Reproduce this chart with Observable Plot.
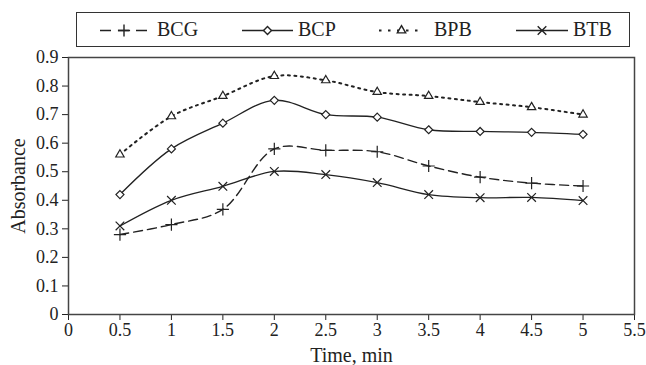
<!DOCTYPE html>
<html>
<head>
<meta charset="utf-8">
<script src="https://cdn.jsdelivr.net/npm/d3@7"></script>
<script src="https://cdn.jsdelivr.net/npm/@observablehq/plot@0.6"></script>
<style>
  html, body { margin: 0; padding: 0; background: #fff; }
  #wrap { position: relative; width: 646px; height: 365px; font-family: "Liberation Serif", "Times New Roman", serif; }
  #legend { position: absolute; left: 76px; top: 12px; width: 552px; height: 33px; border: 1.5px solid #333; box-sizing: content-box; }
  .lab { position: absolute; top: 4px; font-size: 20px; color: #222; line-height: 24px; }
  svg.sample { position: absolute; top: 0; }
</style>
</head>
<body>
<div id="wrap"></div>
<script>
const times = [0.5, 1, 1.5, 2, 2.5, 3, 3.5, 4, 4.5, 5];
const seriesNames = ["BCG", "BCP", "BPB", "BTB"];
const BCG = [0.28, 0.315, 0.368, 0.58, 0.575, 0.57, 0.52, 0.481, 0.46, 0.45];
const BCP = [0.42, 0.58, 0.67, 0.75, 0.70, 0.691, 0.647, 0.641, 0.638, 0.631];
const BPB = [0.56, 0.694, 0.765, 0.835, 0.82, 0.779, 0.765, 0.744, 0.726, 0.70];
const BTB = [0.31, 0.40, 0.449, 0.501, 0.49, 0.462, 0.42, 0.409, 0.41, 0.399];
const xTicks = [0, 0.5, 1, 1.5, 2, 2.5, 3, 3.5, 4, 4.5, 5, 5.5];
const yTicks = [0, 0.1, 0.2, 0.3, 0.4, 0.5, 0.6, 0.7, 0.8, 0.9];
const xTitle = "Time, min";
const yTitle = "Absorbance";

const values = {BCG, BCP, BPB, BTB};
const styles = {
  BCG: {dash: "9,5", width: 1.4, symbol: "plus", fill: "none"},
  BCP: {dash: null, width: 1.3, symbol: "diamond2", fill: "white"},
  BPB: {dash: "2,4.5", width: 2, symbol: "triangle2", fill: "white"},
  BTB: {dash: null, width: 1.3, symbol: "times", fill: "none"}
};
const ink = "#222";

const marks = [];
for (const s of seriesNames) {
  const data = times.map((t, i) => ({t, v: values[s][i]}));
  marks.push(Plot.line(data, {x: "t", y: "v", curve: "catmull-rom", stroke: ink, strokeWidth: styles[s].width, strokeDasharray: styles[s].dash}));
}
for (const s of seriesNames) {
  const data = times.map((t, i) => ({t, v: values[s][i]}));
  marks.push(Plot.dot(data, {x: "t", y: "v", symbol: () => styles[s].symbol, r: s === "BCP" ? 3.6 : 4, stroke: ink, strokeWidth: 1.2, fill: styles[s].fill}));
}

const chart = Plot.plot({
  width: 646,
  height: 365,
  marginLeft: 68,
  marginRight: 12,
  marginTop: 57,
  marginBottom: 51,
  style: {fontFamily: "'Liberation Serif', 'Times New Roman', serif", fontSize: "18px", color: ink, background: "white"},
  x: {domain: [0, 5.5], ticks: xTicks, tickFormat: d => String(d), tickSize: 6, tickPadding: 3, label: xTitle, labelArrow: "none", labelAnchor: "center", labelOffset: 47},
  y: {domain: [0, 0.9], ticks: yTicks, tickFormat: d => String(+d.toFixed(1)), tickSize: 6, tickPadding: 4, label: yTitle, labelArrow: "none", labelAnchor: "center", labelOffset: 58},
  symbol: {type: "identity"},
  marks: [
    Plot.frame({stroke: "#444", strokeWidth: 1.5}),
    ...marks
  ]
});
// axis-label font and strip arrows
const xl = chart.querySelector("g[aria-label='x-axis label'] text");
const yl = chart.querySelector("g[aria-label='y-axis label'] text");
if (xl) { xl.textContent = xTitle; xl.setAttribute("font-size", "20px"); }
if (yl) { yl.textContent = yTitle; yl.setAttribute("font-size", "20px"); }
document.getElementById("wrap").appendChild(chart);

// Legend (HTML + small SVG samples)
const legend = document.createElement("div");
legend.id = "legend";
document.getElementById("wrap").appendChild(legend);
const legendItems = [
  {name: "BCG", x0: 23, x1: 71, textX: 80, dash: "11,7"},
  {name: "BCP", x0: 165, x1: 216, textX: 221, dash: null},
  {name: "BPB", x0: 302, x1: 347, textX: 357, dash: "2.5,6.5"},
  {name: "BTB", x0: 439, x1: 491, textX: 496, dash: null}
];
for (const it of legendItems) {
  const st = styles[it.name];
  const svg = d3.create("svg").attr("class", "sample").attr("width", it.x1 - it.x0).attr("height", 33).style("left", it.x0 + "px");
  const w = it.x1 - it.x0, cy = 17.5;
  svg.append("line").attr("x1", 0).attr("x2", w).attr("y1", cy).attr("y2", cy)
    .attr("stroke", ink).attr("stroke-width", it.name === "BPB" ? 2 : 1.4)
    .attr("stroke-dasharray", it.dash);
  const symMap = {plus: d3.symbolPlus, diamond2: d3.symbolDiamond2, triangle2: d3.symbolTriangle2, times: d3.symbolTimes};
  svg.append("path").attr("d", d3.symbol(symMap[st.symbol], it.name === "BCP" ? 40 : 50)())
    .attr("transform", `translate(${w / 2},${cy})`)
    .attr("fill", st.fill === "white" ? "white" : "none").attr("stroke", ink).attr("stroke-width", 1.4);
  legend.appendChild(svg.node());
  const lab = document.createElement("span");
  lab.className = "lab";
  lab.style.left = it.textX + "px";
  lab.textContent = it.name;
  legend.appendChild(lab);
}
</script>
</body>
</html>
